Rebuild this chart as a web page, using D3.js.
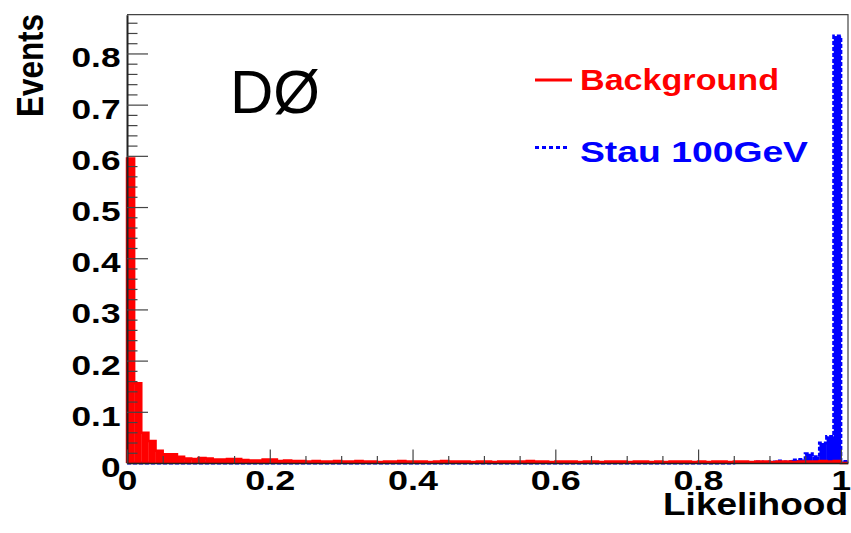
<!DOCTYPE html>
<html>
<head>
<meta charset="utf-8">
<script src="https://cdn.jsdelivr.net/npm/d3@7/dist/d3.min.js"></script>
<style>
  html, body { margin: 0; padding: 0; background: #fff; }
  svg { display: block; }
  text { font-family: "Liberation Sans", Arial, Helvetica, sans-serif; }
</style>
</head>
<body>
<svg id="chart" width="851" height="533"></svg>
<script>
// Histogram binning: 0.01-wide bins starting at 0 (last bin 1.00-1.01)
const binWidth = 0.01;
const xDomain = [0, 1.01];
const yMax = 0.8757;

// Background likelihood distribution (normalised), one value per bin
const background = [
  0.595, 0.156, 0.059, 0.043, 0.024, 0.017, 0.017, 0.012, 0.009, 0.008,
  0.010, 0.009, 0.007, 0.007, 0.008, 0.008, 0.006, 0.005, 0.005, 0.007,
  0.007, 0.004, 0.005, 0.004, 0.004, 0.003, 0.004, 0.003, 0.003, 0.004,
  0.003, 0.003, 0.004, 0.003, 0.003, 0.002, 0.003, 0.003, 0.004, 0.003,
  0.003, 0.003, 0.002, 0.003, 0.004, 0.003, 0.003, 0.003, 0.002, 0.003,
  0.003, 0.002, 0.003, 0.003, 0.003, 0.003, 0.004, 0.003, 0.003, 0.002,
  0.003, 0.003, 0.003, 0.002, 0.003, 0.003, 0.002, 0.003, 0.003, 0.003,
  0.002, 0.003, 0.003, 0.002, 0.003, 0.002, 0.003, 0.003, 0.003, 0.002,
  0.003, 0.002, 0.003, 0.003, 0.002, 0.003, 0.003, 0.002, 0.003, 0.003,
  0.002, 0.003, 0.003, 0.002, 0.003, 0.003, 0.003, 0.004, 0.003, 0.004,
  0
];

// Stau (100 GeV) signal likelihood distribution
const signal = [
  0, 0, 0, 0, 0, 0, 0, 0, 0, 0,
  0, 0, 0, 0, 0, 0, 0, 0, 0, 0,
  0, 0, 0, 0, 0, 0, 0, 0, 0, 0,
  0, 0, 0, 0, 0, 0, 0, 0, 0, 0,
  0, 0, 0, 0, 0, 0, 0, 0, 0, 0,
  0, 0, 0, 0, 0, 0, 0, 0, 0, 0,
  0, 0, 0, 0, 0, 0, 0, 0, 0, 0,
  0, 0, 0, 0, 0, 0, 0, 0, 0, 0,
  0, 0, 0, 0, 0, 0.001, 0.001, 0.001, 0.002, 0.001,
  0.002, 0.004, 0.002, 0.006, 0.007, 0.018, 0.012, 0.039, 0.052, 0.834,
  0.003
];

const xMajorTicks = [0, 0.2, 0.4, 0.6, 0.8, 1];
const xTickLabels = ["0", "0.2", "0.4", "0.6", "0.8", "1"];
const xMinorTicks = [0.05, 0.1, 0.15, 0.25, 0.3, 0.35, 0.45, 0.5, 0.55, 0.65, 0.7, 0.75, 0.85, 0.9, 0.95];
const yMajorTicks = [0, 0.1, 0.2, 0.3, 0.4, 0.5, 0.6, 0.7, 0.8];
const yTickLabels = ["0", "0.1", "0.2", "0.3", "0.4", "0.5", "0.6", "0.7", "0.8"];
const yMinorTicks = [0.02, 0.04, 0.06, 0.08, 0.12, 0.14, 0.16, 0.18, 0.22, 0.24, 0.26, 0.28,
  0.32, 0.34, 0.36, 0.38, 0.42, 0.44, 0.46, 0.48, 0.52, 0.54, 0.56, 0.58,
  0.62, 0.64, 0.66, 0.68, 0.72, 0.74, 0.76, 0.78, 0.82, 0.84, 0.86];

const legendLabels = ["Background", "Stau 100GeV"];

const svg = d3.select("#chart");
const frame = { left: 127, right: 848, top: 14.7, bottom: 463 };

const x = d3.scaleLinear().domain(xDomain).range([frame.left, frame.right]);
const y = d3.scaleLinear().domain([0, yMax]).range([frame.bottom, frame.top]);

// Step outline of a histogram (ROOT style: starts and ends on the baseline)
function stepPath(values) {
  const p = d3.path();
  p.moveTo(x(0), y(0));
  values.forEach((v, i) => {
    p.lineTo(x(i * binWidth), y(v));
    p.lineTo(x((i + 1) * binWidth), y(v));
  });
  p.lineTo(x(values.length * binWidth), y(0));
  return p.toString();
}

function drawHist(values, color, dash, width) {
  const g = svg.append("g");
  g.selectAll("rect")
    .data(values)
    .join("rect")
    .attr("x", (d, i) => x(i * binWidth))
    .attr("width", (d, i) => x((i + 1) * binWidth) - x(i * binWidth) + 0.3)
    .attr("y", d => y(d))
    .attr("height", d => y(0) - y(d))
    .attr("fill", color);
  g.append("path")
    .attr("d", stepPath(values))
    .attr("fill", "none")
    .attr("stroke", color)
    .attr("stroke-width", width)
    .attr("stroke-dasharray", dash);
}

drawHist(signal, "#0000ff", "4,2", 3);
drawHist(background, "#ff0000", null, 2.5);

// Frame (top and right edges)
svg.append("path")
  .attr("d", `M${frame.left},${frame.top}H${frame.right}V${frame.bottom}`)
  .attr("fill", "none")
  .attr("stroke", "#444")
  .attr("stroke-width", 1.2);

// Y axis: ticks pointing into the frame
const yMinorAxis = d3.axisLeft(y).tickValues(yMinorTicks).tickSize(-10.5).tickSizeOuter(0).tickFormat("");
svg.append("g").attr("transform", `translate(${frame.left},0)`).call(yMinorAxis)
  .call(g => g.select(".domain").remove())
  .call(g => g.selectAll("line").attr("stroke", "#444").attr("stroke-width", 1.2));

const yAxis = d3.axisLeft(y).tickValues(yMajorTicks).tickSize(-21).tickSizeOuter(0).tickPadding(7)
  .tickFormat((d, i) => yTickLabels[i]);
const gy = svg.append("g").attr("transform", `translate(${frame.left},0)`).call(yAxis);
gy.select(".domain").attr("stroke", "#222").attr("stroke-width", 2);
gy.selectAll("line").attr("stroke", "#444").attr("stroke-width", 1.2);
gy.selectAll("text")
  .attr("x", -6.5)
  .attr("dy", null)
  .attr("y", 13.4)
  .attr("fill", "#000")
  .style("font-size", "28px")
  .style("font-weight", "bold")
  .attr("textLength", d => d === 0 ? 19.6 : 49)
  .attr("lengthAdjust", "spacingAndGlyphs");

// X axis: ticks pointing up into the frame
const xMinorAxis = d3.axisBottom(x).tickValues(xMinorTicks).tickSize(-7).tickSizeOuter(0).tickFormat("");
svg.append("g").attr("transform", `translate(0,${frame.bottom})`).call(xMinorAxis)
  .call(g => g.select(".domain").remove())
  .call(g => g.selectAll("line").attr("stroke", "#444").attr("stroke-width", 1.2));

const xAxis = d3.axisBottom(x).tickValues(xMajorTicks).tickSize(-13.5).tickSizeOuter(0)
  .tickFormat((d, i) => xTickLabels[i]);
const gx = svg.append("g").attr("transform", `translate(0,${frame.bottom})`).call(xAxis);
gx.select(".domain").attr("stroke", "#222").attr("stroke-width", 1.5);
gx.selectAll("line").attr("stroke", "#444").attr("stroke-width", 1.2);
gx.selectAll("text")
  .attr("dy", null)
  .attr("y", 26.5)
  .attr("fill", "#000")
  .style("font-size", "28px")
  .style("font-weight", "bold")
  .attr("textLength", d => (d === 0 || d === 1) ? 19.6 : 50)
  .attr("lengthAdjust", "spacingAndGlyphs");

// Axis titles
svg.append("text")
  .attr("x", 848).attr("y", 515)
  .attr("text-anchor", "end")
  .style("font-size", "32px").style("font-weight", "bold")
  .attr("textLength", 185).attr("lengthAdjust", "spacingAndGlyphs")
  .text("Likelihood");

svg.append("text")
  .attr("transform", "translate(42.5,14) rotate(-90)")
  .attr("text-anchor", "end")
  .style("font-size", "37px").style("font-weight", "bold")
  .attr("textLength", 103).attr("lengthAdjust", "spacingAndGlyphs")
  .text("Events");

// Experiment label
svg.append("text")
  .attr("x", 230).attr("y", 112.5)
  .style("font-size", "62px")
  .attr("textLength", 90).attr("lengthAdjust", "spacingAndGlyphs")
  .text("DØ");

// Legend
const legend = svg.append("g");
legend.append("line")
  .attr("x1", 535).attr("x2", 572).attr("y1", 80).attr("y2", 80)
  .attr("stroke", "#ff0000").attr("stroke-width", 3);
legend.append("text")
  .attr("x", 580).attr("y", 90)
  .attr("fill", "#ff0000")
  .style("font-size", "30px").style("font-weight", "bold")
  .attr("textLength", 199).attr("lengthAdjust", "spacingAndGlyphs")
  .text(legendLabels[0]);
legend.append("line")
  .attr("x1", 535).attr("x2", 569).attr("y1", 147.5).attr("y2", 147.5)
  .attr("stroke", "#0000ff").attr("stroke-width", 3).attr("stroke-dasharray", "4,3");
legend.append("text")
  .attr("x", 580).attr("y", 161.7)
  .attr("fill", "#0000ff")
  .style("font-size", "30px").style("font-weight", "bold")
  .attr("textLength", 228).attr("lengthAdjust", "spacingAndGlyphs")
  .text(legendLabels[1]);
</script>
</body>
</html>
